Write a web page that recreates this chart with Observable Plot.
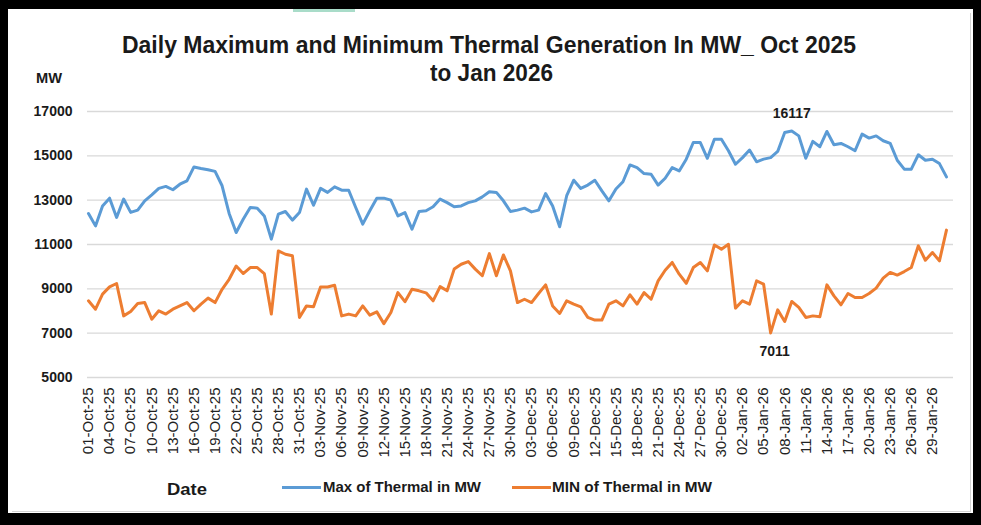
<!DOCTYPE html>
<html><head><meta charset="utf-8">
<script src="https://cdn.jsdelivr.net/npm/d3@7"></script>
<script src="https://cdn.jsdelivr.net/npm/@observablehq/plot@0.6"></script>
<style>
body{margin:0;background:#fff;}
#frame{position:relative;width:981px;height:525px;overflow:hidden;background:#000;}
#inner{position:absolute;left:8px;top:9px;width:965px;height:504px;background:#fff;}
#border{position:absolute;left:12px;top:13px;width:959px;height:499px;border-right:1px solid #d4d4d4;border-bottom:1px solid #d4d4d4;box-sizing:border-box;}
#chart{position:absolute;left:0;top:0;}
.fit{position:absolute;white-space:nowrap;transform-origin:0 50%;font-family:"Liberation Sans",Arial,sans-serif;color:#1a1a1a;line-height:1;}
.sw{position:absolute;height:3px;}
</style></head>
<body>
<div id="frame">
  <div id="inner"></div>
  <div id="border"></div>
  <div style="position:absolute;left:293px;top:9px;width:62px;height:3px;background:#a9dcc9;"></div>
  <div id="chart"></div>
  <div class="fit" data-x1="122" data-x2="856" data-cy="45" style="font-weight:bold;font-size:23px;">Daily Maximum and Minimum Thermal Generation In MW_ Oct 2025</div>
  <div class="fit" data-x1="430" data-x2="553" data-cy="73" style="font-weight:bold;font-size:23px;">to Jan 2026</div>
  <div class="fit" data-x1="36" data-x2="62" data-cy="78" style="font-weight:bold;font-size:14px;">MW</div>
  <div class="fit" data-x1="167" data-x2="207" data-cy="489" style="font-weight:bold;font-size:17px;">Date</div>
  <div class="sw" style="left:282px;top:486px;width:39px;background:#5B9BD5;"></div>
  <div class="fit" data-x1="323" data-x2="481" data-cy="487" style="font-weight:bold;font-size:14px;">Max of Thermal in MW</div>
  <div class="sw" style="left:512px;top:486px;width:39px;background:#ED7D31;"></div>
  <div class="fit" data-x1="552" data-x2="712" data-cy="487" style="font-weight:bold;font-size:14px;">MIN of Thermal in MW</div>
</div>
<script>
// Daily values, 01-Oct-2025 .. 31-Jan-2026
const startDate = new Date(Date.UTC(2025, 9, 1));
const maxMW = [12400,11840,12740,13090,12220,13050,12450,12550,12970,13240,
  13530,13620,13470,13720,13870,14500,14430,14370,14300,13650,
  12400,11540,12140,12670,12640,12290,11240,12370,12490,12100,
  12440,13500,12770,13530,13350,13600,13450,13450,12670,11920,
  12520,13090,13090,13000,12290,12440,11690,12490,12520,12700,
  13050,12890,12700,12740,12890,12970,13150,13380,13350,12970,
  12490,12550,12640,12470,12550,13300,12740,11800,13200,13900,
  13530,13680,13900,13420,12970,13500,13830,14590,14470,14200,
  14170,13680,13990,14470,14320,14850,15600,15600,14890,15750,
  15750,15230,14620,14920,15260,14730,14850,14920,15200,16050,
  16117,15900,14890,15650,15410,16100,15500,15560,15410,15230,
  15980,15800,15900,15680,15560,14800,14400,14400,15050,14800,
  14850,14650,14050];
const minMW = [8460,8080,8760,9090,9240,7780,7980,8340,8380,7630,
  8010,7860,8080,8230,8380,8010,8310,8580,8380,8980,
  9430,10030,9690,9960,9960,9690,7860,10710,10560,10490,
  7710,8230,8190,9080,9080,9160,7780,7860,7780,8230,
  7810,7960,7430,7930,8830,8420,8980,8910,8820,8460,
  9100,8910,9890,10110,10230,9890,9590,10590,9590,10530,
  9810,8380,8530,8380,8790,9180,8230,7890,8460,8310,
  8190,7710,7590,7590,8310,8460,8230,8730,8310,8830,
  8530,9360,9840,10190,9660,9250,9960,10190,9810,10980,
  10790,11010,8130,8460,8310,9360,9210,7011,8050,7530,
  8430,8160,7710,7780,7740,9180,8680,8280,8790,8610,
  8610,8790,9030,9480,9740,9620,9780,9960,10940,10290,
  10640,10260,11650];
const yTicks = [5000,7000,9000,11000,13000,15000,17000];
const tickEveryDays = 3;
const labelFormat = "%d-%b-%y";

const dates = d3.utcDay.range(startDate, d3.utcDay.offset(startDate, maxMW.length));
const maxRows = dates.map((d, i) => ({date: d, value: maxMW[i]}));
const minRows = dates.map((d, i) => ({date: d, value: minMW[i]}));
const xTicks = d3.utcDay.range(startDate, d3.utcDay.offset(startDate, maxMW.length), tickEveryDays);
const peak = maxRows.filter(r => r.value === d3.max(maxMW));
const trough = minRows.filter(r => r.value === d3.min(minMW));

const chart = Plot.plot({
  width: 981, height: 525,
  marginTop: 111, marginBottom: 148, marginLeft: 87, marginRight: 28,
  style: {background: "transparent", fontFamily: "'Liberation Sans', Arial, sans-serif", overflow: "visible"},
  x: {type: "utc", domain: [new Date(Date.UTC(2025, 8, 30, 20, 40)), new Date(Date.UTC(2026, 1, 1))]},
  y: {domain: [5000, 17000]},
  marks: [
    Plot.gridY(yTicks, {stroke: "#d9d9d9", strokeOpacity: 1, strokeWidth: 1.3}),
    Plot.axisY(yTicks, {tickSize: 0, tickPadding: 15, label: null, fontSize: 14, fontWeight: "bold", fill: "#1a1a1a", tickFormat: d => String(d)}),
    Plot.axisX(xTicks, {tickSize: 0, tickPadding: 10, tickRotate: -90, label: null, fontSize: 15, fill: "#222", tickFormat: d3.utcFormat(labelFormat)}),
    Plot.lineY(maxRows, {x: "date", y: "value", stroke: "#5B9BD5", strokeWidth: 3, strokeLinejoin: "round"}),
    Plot.lineY(minRows, {x: "date", y: "value", stroke: "#ED7D31", strokeWidth: 3, strokeLinejoin: "round"}),
    Plot.text(peak, {x: "date", y: "value", text: d => String(d.value), dy: -18, fontSize: 14, fontWeight: "bold", fill: "#1a1a1a"}),
    Plot.text(trough, {x: "date", y: "value", text: d => String(d.value), dy: 19, dx: 4, fontSize: 14, fontWeight: "bold", fill: "#1a1a1a"})
  ]
});
document.getElementById("chart").appendChild(chart);

document.querySelectorAll(".fit").forEach(el => {
  const x1 = +el.dataset.x1, x2 = +el.dataset.x2, cy = +el.dataset.cy;
  const r = el.getBoundingClientRect();
  const s = (x2 - x1) / r.width;
  el.style.left = x1 + "px";
  el.style.top = (cy - r.height / 2) + "px";
  el.style.transform = `scaleX(${s})`;
});
</script>
</body></html>
